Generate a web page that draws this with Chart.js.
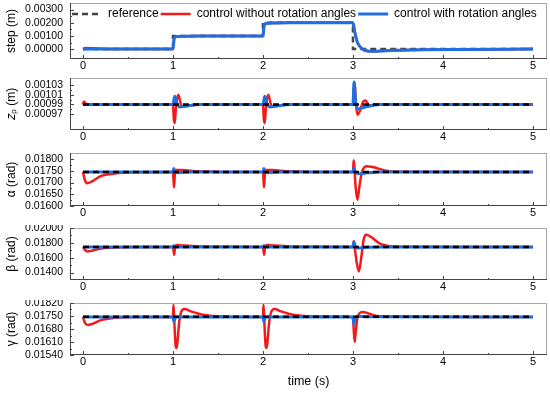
<!DOCTYPE html>
<html>
<head>
<meta charset="utf-8">
<script src="https://cdn.jsdelivr.net/npm/chart.js@4.4.0/dist/chart.umd.min.js"></script>
<style>
  body { margin: 0; background: #fff; }
  #wrap { position: relative; width: 550px; height: 393px; }
  canvas { position: absolute; left: 0; }
</style>
</head>
<body>
<div id="wrap">
  <canvas id="c1" width="550" height="75" style="top:0px"></canvas>
  <canvas id="c2" width="550" height="71" style="top:75px"></canvas>
  <canvas id="c3" width="550" height="72" style="top:150px"></canvas>
  <canvas id="c4" width="550" height="71" style="top:225px"></canvas>
  <canvas id="c5" width="550" height="93" style="top:300px"></canvas>
</div>
<script>
// Series names
const seriesLabels = ['reference', 'control without rotation angles', 'control with rotation angles'];

// x axis (time, s)
const timeTicks = [0, 1, 2, 3, 4, 5];

// Panel 1: step (m)   -- pairs of [time, value]
const stepTicks = [0, 0.001, 0.002, 0.003];
const stepRef = [[0, 0], [1, 0], [1, 0.001], [2, 0.001], [2, 0.002], [3, 0.002], [3, 0], [5, 0]];
const stepRed = [[0, 0], [0.03, 0.00008], [0.15, 0.00005], [0.3, 0], [1, 0], [1.015, 0.00085], [1.04, 0.00095],
  [1.1, 0.00098], [1.3, 0.001], [2, 0.001], [2.015, 0.00185], [2.04, 0.00195], [2.1, 0.00198],
  [2.3, 0.002], [3, 0.002], [3.02, 0.0013], [3.05, 0.0005], [3.1, 0.00003], [3.16, -0.00015],
  [3.22, -0.00017], [3.3, -0.00014], [3.5, -0.00008], [3.8, -0.00004], [4.2, -0.00002], [5, 0]];
const stepBlue = [[0, 0], [1, 0], [1.015, 0.00085], [1.04, 0.00095], [1.1, 0.00098], [1.3, 0.001],
  [2, 0.001], [2.015, 0.00185], [2.04, 0.00195], [2.1, 0.00198], [2.3, 0.002], [3, 0.002],
  [3.02, 0.0013], [3.05, 0.0005], [3.1, 0.00003], [3.16, -0.00015], [3.22, -0.00017], [3.3, -0.00014],
  [3.5, -0.00008], [3.8, -0.00004], [4.2, -0.00002], [5, 0]];

// Panel 2: z_p (m)
const zpTicks = [0.00097, 0.00099, 0.00101, 0.00103];
const zpRef = [[0, 0.00099], [5, 0.00099]];
const zpRed = [[0, 0.00099], [0.01, 0.000996], [0.04, 0.00099], [1, 0.00099], [1.01, 0.00096], [1.02, 0.000952],
  [1.035, 0.00099], [1.06, 0.00101], [1.08, 0.000996], [1.1, 0.000985], [1.15, 0.000987], [1.3, 0.00099],
  [2, 0.00099], [2.01, 0.00096], [2.02, 0.000952], [2.035, 0.00099], [2.06, 0.00101], [2.08, 0.000996],
  [2.1, 0.000985], [2.15, 0.000987], [2.3, 0.00099], [3, 0.00099], [3.01, 0.00102], [3.02, 0.001035],
  [3.03, 0.001], [3.05, 0.000969], [3.08, 0.000978], [3.11, 0.000995], [3.14, 0.000998], [3.18, 0.000988],
  [3.25, 0.00099], [5, 0.00099]];
const zpBlue = [[0, 0.00099], [1, 0.00099], [1.02, 0.001007], [1.04, 0.000994], [1.07, 0.000985], [1.15, 0.000987],
  [1.3, 0.00099], [2, 0.00099], [2.02, 0.001007], [2.04, 0.000994], [2.07, 0.000985], [2.15, 0.000987],
  [2.3, 0.00099], [3, 0.00099], [3.012, 0.001036], [3.03, 0.000995], [3.06, 0.000981], [3.12, 0.000984],
  [3.3, 0.00099], [5, 0.00099]];

// Panel 3: alpha (rad)
const alphaTicks = [0.016, 0.0165, 0.017, 0.0175, 0.018];
const alphaRef = [[0, 0.017453], [5, 0.017453]];
const alphaRed = [[0, 0.01745], [0.02, 0.01712], [0.05, 0.01697], [0.1, 0.01705], [0.2, 0.01728], [0.35, 0.01739],
  [0.6, 0.01744], [1, 0.01745], [1.005, 0.0172], [1.012, 0.0168], [1.02, 0.0173], [1.035, 0.01754], [1.1, 0.01753],
  [1.3, 0.01748], [1.6, 0.01745], [2, 0.01745], [2.005, 0.0172], [2.012, 0.0168], [2.02, 0.0173], [2.035, 0.01754],
  [2.1, 0.01753], [2.3, 0.01748], [2.6, 0.01745], [3, 0.01745], [3.008, 0.01795], [3.016, 0.01765], [3.03, 0.0168],
  [3.05, 0.01627], [3.07, 0.0168], [3.1, 0.01745], [3.15, 0.0177], [3.22, 0.01766], [3.35, 0.01752],
  [3.5, 0.01746], [5, 0.01745]];
const alphaBlue = [[0, 0.01745], [1, 0.01745], [1.01, 0.0176], [1.025, 0.01745], [1.05, 0.01742], [1.2, 0.01745],
  [2, 0.01745], [2.01, 0.0176], [2.025, 0.01745], [2.05, 0.01742], [2.2, 0.01745], [3, 0.01745], [3.01, 0.01762],
  [3.025, 0.01745], [3.06, 0.01738], [3.12, 0.0174], [3.3, 0.01745], [5, 0.01745]];

// Panel 4: beta (rad)
const betaTicks = [0.014, 0.016, 0.018, 0.020];
const betaRef = [[0, 0.017453], [5, 0.017453]];
const betaRed = [[0, 0.01745], [0.02, 0.0171], [0.05, 0.01685], [0.1, 0.01695], [0.2, 0.01725], [0.35, 0.0174],
  [0.6, 0.01745], [1, 0.01745], [1.006, 0.017], [1.013, 0.0164], [1.022, 0.0172], [1.04, 0.0177], [1.1, 0.01765],
  [1.3, 0.01752], [1.6, 0.01746], [2, 0.01745], [2.006, 0.017], [2.013, 0.0164], [2.022, 0.0172], [2.04, 0.0177],
  [2.1, 0.01765], [2.3, 0.01752], [2.6, 0.01746], [3, 0.01745], [3.008, 0.0182], [3.018, 0.0175], [3.04, 0.0155],
  [3.065, 0.01415], [3.09, 0.0158], [3.12, 0.0185], [3.15, 0.0191], [3.2, 0.0188], [3.3, 0.0179], [3.45, 0.0175],
  [3.6, 0.01746], [5, 0.01745]];
const betaBlue = [[0, 0.01745], [1, 0.01745], [1.01, 0.0176], [1.03, 0.01745], [2, 0.01745], [2.01, 0.0176],
  [2.03, 0.01745], [3, 0.01745], [3.01, 0.0181], [3.03, 0.01745], [3.06, 0.0173], [3.15, 0.0174], [3.3, 0.01745],
  [5, 0.01745]];

// Panel 5: gamma (rad)
const gammaTicks = [0.0154, 0.0161, 0.0168, 0.0175, 0.0182];
const gammaRef = [[0, 0.017453], [5, 0.017453]];
const gammaRed = [[0, 0.01745], [0.02, 0.01715], [0.05, 0.01702], [0.1, 0.01707], [0.2, 0.01728], [0.35, 0.0174],
  [0.6, 0.01745], [1, 0.01745], [1.006, 0.0181], [1.015, 0.0172], [1.03, 0.0159], [1.04, 0.01578], [1.05, 0.0161],
  [1.07, 0.0172], [1.1, 0.0178], [1.13, 0.01788], [1.2, 0.01775], [1.35, 0.01755], [1.55, 0.01747], [2, 0.01745],
  [2.006, 0.0181], [2.015, 0.0172], [2.03, 0.0159], [2.04, 0.01578], [2.05, 0.0161], [2.07, 0.0172], [2.1, 0.0178],
  [2.13, 0.01788], [2.2, 0.01775], [2.35, 0.01755], [2.55, 0.01747], [3, 0.01745], [3.008, 0.0168], [3.02, 0.0161],
  [3.03, 0.0166], [3.05, 0.0174], [3.08, 0.01768], [3.11, 0.01772], [3.18, 0.01762], [3.3, 0.01749], [5, 0.01745]];
const gammaBlue = [[0, 0.01745], [1, 0.01745], [1.01, 0.0172], [1.025, 0.0174], [1.05, 0.01745], [2, 0.01745],
  [2.01, 0.0172], [2.025, 0.0174], [2.05, 0.01745], [3, 0.01745], [3.01, 0.01705], [3.025, 0.0174], [3.05, 0.01748],
  [3.15, 0.01746], [5, 0.01745]];

const FONT = "'Liberation Sans', Arial, sans-serif";
const RED = '#f21a1a';
const BLUE = '#1f6fe3';

function toPoints(pairs) {
  return pairs.map(p => ({ x: p[0], y: p[1] }));
}

// Frame around each plot plus inward tick marks
const framePlugin = {
  id: 'frame',
  afterDatasetsDraw(chart) {
    const { ctx, chartArea: a, scales: { x, y } } = chart;
    ctx.save();
    ctx.lineWidth = 1;
    ctx.strokeStyle = '#a8a8a8';
    ctx.strokeRect(a.left + 0.5, a.top + 0.5, a.right - a.left - 1, a.bottom - a.top - 1);
    ctx.strokeStyle = '#444';
    ctx.beginPath();
    ctx.moveTo(a.left + 0.5, a.top);
    ctx.lineTo(a.left + 0.5, a.bottom - 0.5);
    ctx.lineTo(a.right, a.bottom - 0.5);
    const xs = x.ticks.map(t => t.value);
    xs.forEach((v, i) => {
      const px = Math.round(x.getPixelForValue(v)) + 0.5;
      ctx.moveTo(px, a.bottom); ctx.lineTo(px, a.bottom - 4);
      if (i < xs.length - 1) {
        const mx = Math.round(x.getPixelForValue((v + xs[i + 1]) / 2)) + 0.5;
        ctx.moveTo(mx, a.bottom); ctx.lineTo(mx, a.bottom - 2);
      }
    });
    const ys = y.ticks.map(t => t.value);
    ys.forEach((v, i) => {
      const py = Math.round(y.getPixelForValue(v)) + 0.5;
      ctx.moveTo(a.left, py); ctx.lineTo(a.left + 4, py);
      if (i < ys.length - 1) {
        const my = Math.round(y.getPixelForValue((v + ys[i + 1]) / 2)) + 0.5;
        ctx.moveTo(a.left, my); ctx.lineTo(a.left + 2, my);
      }
    });
    ctx.stroke();
    ctx.restore();
  }
};

// Legend sits on top of the plot: no height in the layout, real height restored for drawing
const legendOverlay = {
  id: 'legendOverlay',
  beforeInit(chart) {
    const legend = chart.legend;
    if (!legend) return;
    const fit = legend.fit;
    legend.fit = function () {
      fit.call(this);
      this._realHeight = this.height;
      this.height = 0;
    };
  },
  afterLayout(chart) {
    const legend = chart.legend;
    if (legend && legend._realHeight) {
      legend.height = legend._realHeight;
      legend.bottom = legend.top + legend._realHeight;
    }
  }
};

function legendLabels(chart) {
  const items = Chart.defaults.plugins.legend.labels.generateLabels(chart);
  items.forEach(item => {
    const ds = chart.data.datasets[item.datasetIndex];
    item.lineDash = ds.borderDash || [];
    item.strokeStyle = ds.borderColor;
    item.lineWidth = ds.borderWidth;
  });
  return items;
}

function drawPanel(canvasId, cfg) {
  const ctx = document.getElementById(canvasId).getContext('2d');
  new Chart(ctx, {
    type: 'line',
    data: {
      datasets: [{
        label: seriesLabels[0],
        data: toPoints(cfg.ref),
        borderColor: cfg.refColor,
        backgroundColor: cfg.refColor,
        borderWidth: 2.5,
        borderDash: [6, 4],
        tension: 0,
        order: cfg.refOrder
      }, {
        label: seriesLabels[1],
        data: toPoints(cfg.red),
        borderColor: RED,
        backgroundColor: RED,
        borderWidth: 2.5,
        cubicInterpolationMode: 'monotone',
        order: 2
      }, {
        label: seriesLabels[2],
        data: toPoints(cfg.blue),
        borderColor: BLUE,
        backgroundColor: BLUE,
        borderWidth: 3,
        cubicInterpolationMode: 'monotone',
        order: 1
      }]
    },
    options: {
      responsive: false,
      animation: false,
      devicePixelRatio: 1,
      layout: { padding: { top: 3, right: 3, left: 0, bottom: 0 } },
      elements: { point: { radius: 0 } },
      plugins: {
        tooltip: { enabled: false },
        legend: {
          display: !!cfg.legend,
          position: 'top',
          fullSize: false,
          align: 'start',
          title: { display: true, text: ' ', padding: 0, font: { size: 2.5 } },
          labels: {
            usePointStyle: true,
            pointStyle: 'line',
            pointStyleWidth: 30,
            padding: 2,
            color: '#000',
            font: { size: 12, family: FONT },
            generateLabels: legendLabels,
            sort: (a, b) => a.datasetIndex - b.datasetIndex
          }
        }
      },
      scales: {
        x: {
          type: 'linear',
          min: -0.144,
          max: 5.156,
          afterBuildTicks: s => { s.ticks = timeTicks.map(v => ({ value: v })); },
          afterFit: s => { s.height = cfg.xHeight; s.paddingLeft = 0; s.paddingRight = 0; },
          grid: { display: false, drawTicks: false },
          border: { display: false },
          ticks: { padding: 0, color: '#000', autoSkip: false, maxRotation: 0, font: { size: 11, family: FONT }, callback: v => String(v) },
          title: { display: !!cfg.xTitle, text: cfg.xTitle || '', color: '#000', font: { size: 12.5, family: FONT }, padding: { top: 0, bottom: 4 } }
        },
        y: {
          min: cfg.min,
          max: cfg.max,
          afterBuildTicks: s => { s.ticks = cfg.ticks.map(v => ({ value: v })); },
          afterFit: s => { s.width = 70; s.paddingTop = 0; s.paddingBottom = 0; },
          grid: { display: false, drawTicks: false },
          border: { display: false },
          ticks: { padding: 7, autoSkip: false, color: '#000', font: { size: 10.5, family: FONT }, callback: v => v.toFixed(5) },
          title: { display: true, text: cfg.yTitle, color: '#000', font: { size: 12, family: FONT }, padding: { top: 4, bottom: 0 } }
        }
      }
    },
    plugins: [framePlugin, legendOverlay]
  });
}

drawPanel('c1', { ref: stepRef, red: stepRed, blue: stepBlue, refColor: '#444', refOrder: 1.5,
  min: -0.00075, max: 0.0035, ticks: stepTicks, yTitle: 'step (m)', xHeight: 16, legend: true });
drawPanel('c2', { ref: zpRef, red: zpRed, blue: zpBlue, refColor: '#000', refOrder: 0,
  min: 0.000938, max: 0.001044, ticks: zpTicks, yTitle: '𝑧ₚ (m)', xHeight: 16 });
drawPanel('c3', { ref: alphaRef, red: alphaRed, blue: alphaBlue, refColor: '#000', refOrder: 0,
  min: 0.016, max: 0.01826, ticks: alphaTicks, yTitle: 'α (rad)', xHeight: 16 });
drawPanel('c4', { ref: betaRef, red: betaRed, blue: betaBlue, refColor: '#000', refOrder: 0,
  min: 0.013, max: 0.020, ticks: betaTicks, yTitle: 'β (rad)', xHeight: 16 });
drawPanel('c5', { ref: gammaRef, red: gammaRed, blue: gammaBlue, refColor: '#000', refOrder: 0,
  min: 0.0154, max: 0.0182, ticks: gammaTicks, yTitle: 'γ (rad)', xHeight: 38, xTitle: 'time (s)' });
</script>
</body>
</html>
